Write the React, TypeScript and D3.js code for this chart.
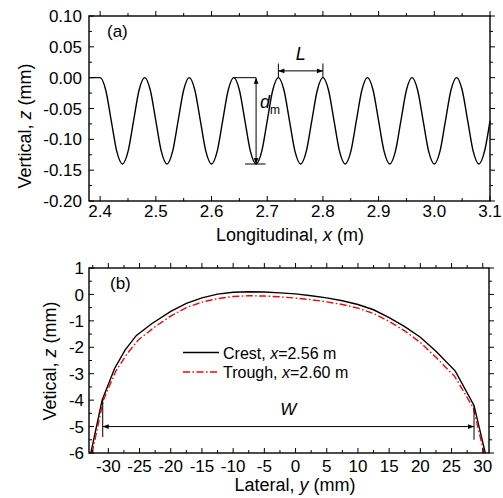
import React from 'react';
import * as d3 from 'd3';

// ---- panel (a): longitudinal profile, sampled every 0.01 m from 2.38 m ----
const waveStart = 2.38;
const waveStep = 0.01;
const waveZ = [
  0, 0, 0,
  -0.02, -0.07, -0.12, -0.14, -0.12, -0.07, -0.02, 0,
  -0.02, -0.07, -0.12, -0.14, -0.12, -0.07, -0.02, 0,
  -0.02, -0.07, -0.12, -0.14, -0.12, -0.07, -0.02, 0,
  -0.02, -0.07, -0.12, -0.14, -0.12, -0.07, -0.02, 0,
  -0.02, -0.07, -0.12, -0.14, -0.12, -0.07, -0.02, 0,
  -0.02, -0.07, -0.12, -0.14, -0.12, -0.07, -0.02, 0,
  -0.02, -0.07, -0.12, -0.14, -0.12, -0.07, -0.02, 0,
  -0.02, -0.07, -0.12, -0.14, -0.12, -0.07, -0.02, 0,
  -0.02, -0.07, -0.12, -0.14, -0.12, -0.07,
];
const xTicksA = [2.4, 2.5, 2.6, 2.7, 2.8, 2.9, 3.0, 3.1];
const xTickLabelsA = ['2.4', '2.5', '2.6', '2.7', '2.8', '2.9', '3.0', '3.1'];
const xMinorA = [2.45, 2.55, 2.65, 2.75, 2.85, 2.95, 3.05];
const yTicksA = [-0.2, -0.15, -0.1, -0.05, 0, 0.05, 0.1];
const yTickLabelsA = ['-0.20', '-0.15', '-0.10', '-0.05', '0.00', '0.05', '0.10'];
const yMinorA = [-0.175, -0.125, -0.075, -0.025, 0.025, 0.075];

// annotations of (a)
const dmX = 2.68;
const dmTop = 0;
const dmBottom = -0.14;
const dmPeakX = 2.64;
const lStart = 2.72;
const lEnd = 2.8;
const lZ = 0.011;

// ---- panel (b): lateral profiles ----
const crestY = [-32.8, -31.0, -29.0, -27.3, -25.5, -23, -20, -17.5, -15, -12.5, -10, -7.5, -5, -2.5, 0, 2.5, 5, 7.5, 10, 12.5, 15, 17.5, 20, 22.5, 25.6, 28.6, 30.4];
const crestZ = [-6.0, -4.0, -2.8, -2.1, -1.55, -1.1, -0.64, -0.34, -0.13, 0.01, 0.08, 0.1, 0.09, 0.06, 0.02, -0.05, -0.13, -0.24, -0.38, -0.58, -0.88, -1.22, -1.62, -2.15, -2.9, -4.2, -6.0];
const troughY = [-32.6, -30.8, -28.8, -27.0, -25.2, -22.5, -20, -17.5, -15, -12.5, -10, -7.5, -5, -2.5, 0, 2.5, 5, 7.5, 10, 12.5, 15, 17.5, 20, 22.5, 25.5, 28.5, 30.2];
const troughZ = [-6.0, -4.0, -2.9, -2.25, -1.72, -1.22, -0.82, -0.5, -0.29, -0.16, -0.08, -0.05, -0.06, -0.09, -0.14, -0.2, -0.28, -0.38, -0.52, -0.72, -1.02, -1.38, -1.82, -2.38, -3.1, -4.3, -6.0];
const xTicksB = [-30, -25, -20, -15, -10, -5, 0, 5, 10, 15, 20, 25, 30];
const xMinorB = [-32.5, -27.5, -22.5, -17.5, -12.5, -7.5, -2.5, 2.5, 7.5, 12.5, 17.5, 22.5, 27.5];
const yTicksB = [-6, -5, -4, -3, -2, -1, 0, 1];
const yMinorB = [-5.5, -4.5, -3.5, -2.5, -1.5, -0.5, 0.5];
const legendLabels = ['Crest, ', 'Trough, '];
const legendValues = ['=2.56 m', '=2.60 m'];

// W annotation
const wLeft = -30.9;
const wRight = 28.6;
const wZ = -5;

const FONT = 'Liberation Sans, Arial, Helvetica, sans-serif';

function Frame({ x, y, xTicks, xLabels, xMinor, yTicks, yLabels, yMinor, xLabelDy, yLabelX }) {
  const [x0, x1] = x.range();
  const [y0, y1] = y.range(); // y0 bottom
  const major = 5;
  const minor = 3;
  return (
    <g>
      {xTicks.map((t, i) => (
        <g key={'xt' + i}>
          <line x1={x(t)} x2={x(t)} y1={y0} y2={y0 - major} stroke="#000" strokeWidth={1} />
          <line x1={x(t)} x2={x(t)} y1={y1} y2={y1 - major} stroke="#000" strokeWidth={1} />
          <text x={x(t)} y={y0 + xLabelDy} textAnchor="middle" fontSize={17}>{xLabels[i]}</text>
        </g>
      ))}
      {xMinor.map((t, i) => (
        <g key={'xm' + i}>
          <line x1={x(t)} x2={x(t)} y1={y0} y2={y0 - minor} stroke="#000" strokeWidth={1} />
          <line x1={x(t)} x2={x(t)} y1={y1} y2={y1 - minor} stroke="#000" strokeWidth={1} />
        </g>
      ))}
      {yTicks.map((t, i) => (
        <g key={'yt' + i}>
          <line x1={x0} x2={x0 + major} y1={y(t)} y2={y(t)} stroke="#000" strokeWidth={1} />
          <line x1={x1} x2={x1 + major} y1={y(t)} y2={y(t)} stroke="#000" strokeWidth={1} />
          <text x={yLabelX} y={y(t)} dy="0.36em" textAnchor="end" fontSize={17}>{yLabels[i]}</text>
        </g>
      ))}
      {yMinor.map((t, i) => (
        <g key={'ym' + i}>
          <line x1={x0} x2={x0 + minor} y1={y(t)} y2={y(t)} stroke="#000" strokeWidth={1} />
          <line x1={x1} x2={x1 + minor} y1={y(t)} y2={y(t)} stroke="#000" strokeWidth={1} />
        </g>
      ))}
      <rect x={x0} y={y1} width={x1 - x0} height={y0 - y1} fill="none" stroke="#000" strokeWidth={1.4} />
    </g>
  );
}

export default function App() {
  // panel (a)
  const xA = d3.scaleLinear().domain([2.38, 3.1]).range([89, 490]);
  const yA = d3.scaleLinear().domain([-0.2, 0.1]).range([201, 16]);
  const wave = waveZ.map((z, i) => [waveStart + i * waveStep, z]);
  const waveLine = d3.line().x(d => xA(d[0])).y(d => yA(d[1])).curve(d3.curveMonotoneX);

  // panel (b)
  const xB = d3.scaleLinear().domain([-33.1, 31]).range([89, 489]);
  const yB = d3.scaleLinear().domain([-6, 1]).range([453, 268]);
  const lineB = d3.line().x(d => xB(d[0])).y(d => yB(d[1]));
  const crest = crestY.map((v, i) => [v, crestZ[i]]);
  const trough = troughY.map((v, i) => [v, troughZ[i]]);

  return (
    <svg width={503} height={498} style={{ position: 'absolute', left: 0, top: 0, background: '#fff' }} fontFamily={FONT}>
      <defs>
        <marker id="arr" viewBox="0 0 10 10" refX={10} refY={5} markerWidth={7} markerHeight={6}
          markerUnits="userSpaceOnUse" orient="auto-start-reverse">
          <path d="M0,1 L10,5 L0,9 z" fill="#000" />
        </marker>
      </defs>

      {/* ---------- (a) ---------- */}
      <path d={waveLine(wave)} fill="none" stroke="#000" strokeWidth={1.4} />
      <Frame x={xA} y={yA} xTicks={xTicksA} xLabels={xTickLabelsA} xMinor={xMinorA}
        yTicks={yTicksA} yLabels={yTickLabelsA} yMinor={yMinorA} xLabelDy={16} yLabelX={82} />
      <text x={107} y={37} fontSize={17}>(a)</text>

      {/* d_m */}
      <line x1={xA(dmPeakX)} x2={xA(dmX)} y1={yA(dmTop)} y2={yA(dmTop)} stroke="#000" strokeWidth={1} />
      <line x1={xA(dmX - 0.02)} x2={xA(dmX + 0.017)} y1={yA(dmBottom)} y2={yA(dmBottom)} stroke="#000" strokeWidth={1} />
      <line x1={xA(dmX)} x2={xA(dmX)} y1={yA(dmTop)} y2={yA(dmBottom)} stroke="#000" strokeWidth={1}
        markerStart="url(#arr)" markerEnd="url(#arr)" />
      <text x={xA(dmX) + 4} y={108} fontSize={18} fontStyle="italic">d</text>
      <text x={xA(dmX) + 14} y={114} fontSize={12}>m</text>

      {/* L */}
      <line x1={xA(lStart)} x2={xA(lEnd)} y1={yA(lZ)} y2={yA(lZ)} stroke="#000" strokeWidth={1}
        markerStart="url(#arr)" markerEnd="url(#arr)" />
      <line x1={xA(lStart)} x2={xA(lStart)} y1={yA(0.023)} y2={yA(0)} stroke="#000" strokeWidth={1} />
      <line x1={xA(lEnd)} x2={xA(lEnd)} y1={yA(0.023)} y2={yA(0)} stroke="#000" strokeWidth={1} />
      <text x={xA((lStart + lEnd) / 2)} y={60} textAnchor="middle" fontSize={18} fontStyle="italic">L</text>

      <text x={290} y={241} textAnchor="middle" fontSize={18}>
        Longitudinal, <tspan fontStyle="italic">x</tspan> (m)
      </text>
      <text transform="translate(31,126) rotate(-90)" textAnchor="middle" fontSize={18}>
        Vertical, <tspan fontStyle="italic">z</tspan> (mm)
      </text>

      {/* ---------- (b) ---------- */}
      <path d={lineB(crest)} fill="none" stroke="#000" strokeWidth={1.4} />
      <path d={lineB(trough)} fill="none" stroke="#ff0000" strokeWidth={1.4} strokeDasharray="7,2.5,1.5,2.5" />
      <Frame x={xB} y={yB} xTicks={xTicksB} xLabels={xTicksB.map(String)} xMinor={xMinorB}
        yTicks={yTicksB} yLabels={yTicksB.map(String)} yMinor={yMinorB} xLabelDy={19} yLabelX={84} />
      <text x={110} y={289} fontSize={17}>(b)</text>

      {/* W */}
      <line x1={xB(wLeft)} x2={xB(wRight)} y1={yB(wZ)} y2={yB(wZ)} stroke="#000" strokeWidth={1}
        markerStart="url(#arr)" markerEnd="url(#arr)" />
      <line x1={xB(wLeft)} x2={xB(wLeft)} y1={yB(-3.95)} y2={yB(-5.4)} stroke="#000" strokeWidth={1} />
      <line x1={xB(wRight)} x2={xB(wRight)} y1={yB(-4.2)} y2={yB(-5.5)} stroke="#000" strokeWidth={1} />
      <text x={xB((wLeft + wRight) / 2)} y={yB(-4.55)} textAnchor="middle" fontSize={17} fontStyle="italic">W</text>

      {/* legend */}
      {legendLabels.map((lab, i) => (
        <g key={lab} transform={`translate(183, ${352.5 + i * 19.5})`}>
          <line x1={0} x2={36} y1={0} y2={0} stroke={i === 0 ? '#000' : '#ff0000'} strokeWidth={1.4}
            strokeDasharray={i === 0 ? null : '7,2.5,1.5,2.5'} />
          <text x={40} y={6} fontSize={16}>
            {lab}<tspan fontStyle="italic">x</tspan>{legendValues[i]}
          </text>
        </g>
      ))}

      <text x={295} y={491} textAnchor="middle" fontSize={18}>
        Lateral, <tspan fontStyle="italic">y</tspan> (mm)
      </text>
      <text transform="translate(56,361) rotate(-90)" textAnchor="middle" fontSize={18}>
        Vetical, <tspan fontStyle="italic">z</tspan> (mm)
      </text>
    </svg>
  );
}
